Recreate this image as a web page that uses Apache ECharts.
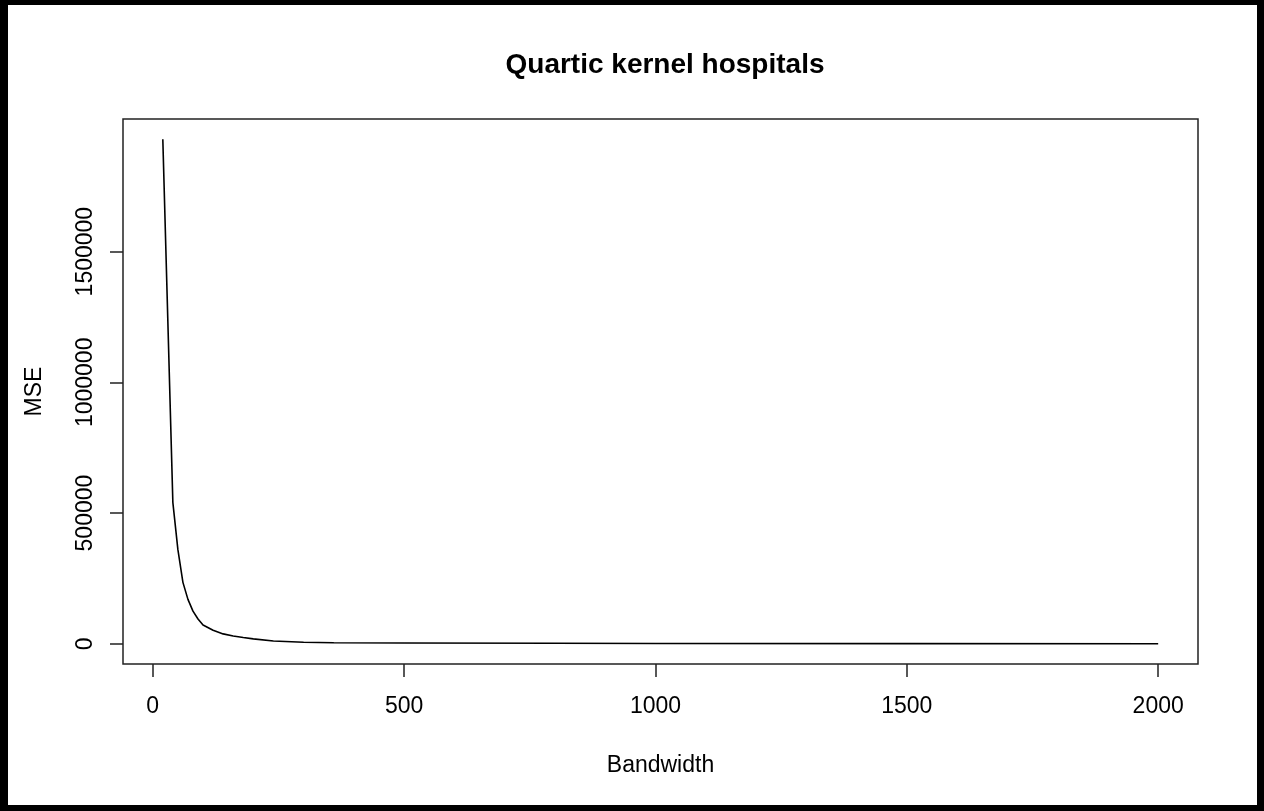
<!DOCTYPE html>
<html>
<head>
<meta charset="utf-8">
<title>Quartic kernel hospitals</title>
<script src="https://cdn.jsdelivr.net/npm/echarts@6/dist/echarts.min.js"></script>
<style>
body { margin: 0; background: #fff; }
#chart { position: absolute; left: 0; top: 0; width: 1264px; height: 811px; }
#frame { position: absolute; left: 0; top: 0; width: 1264px; height: 811px; box-sizing: border-box;
    border-style: solid; border-color: #000; border-width: 5px 7px 6px 8px; pointer-events: none; }
</style>
</head>
<body>
<div id="chart"></div>
<div id="frame"></div>
<script>
// MSE against bandwidth
var bandwidth = [20, 40, 50, 60, 70, 80, 90, 100, 120, 140, 160, 180, 200, 240, 300, 360, 500, 800, 1000, 1500, 2000];
var mse = [1930000, 540000, 360000, 235000, 170000, 125000, 95000, 72000, 52000, 38000, 30000, 24000, 19000, 11000, 6000, 4000, 3000, 2000, 1200, 600, 300];
var x_ticks = [0, 500, 1000, 1500, 2000];
var y_ticks = [0, 500000, 1000000, 1500000];

var font = 'Liberation Sans, Arial, sans-serif';
var points = [];
for (var i = 0; i < bandwidth.length; i++) {
    points.push([bandwidth[i], mse[i]]);
}
// R pads the data range by 4% each side
var x_span = 2000 - 20;
var y_span = 1930000 - 0;

function plain(v) {
    return String(v);
}

var chart = echarts.init(document.getElementById('chart'));
var option = {
    animation: false,
    backgroundColor: '#fff',
    title: {
	text: 'Quartic kernel hospitals',
	left: 660,
	textAlign: 'center',
	top: 46,
	textStyle: { fontFamily: font, fontSize: 28, fontWeight: 'bold', color: '#000' }
    },
    grid: {
	left: 123, top: 119, right: 66, bottom: 147,
	show: true,
	borderColor: '#222',
	borderWidth: 1.5,
	backgroundColor: 'transparent'
    },
    xAxis: {
	type: 'value',
	min: 20 - 0.04 * x_span,
	max: 2000 + 0.04 * x_span,
	name: 'Bandwidth',
	nameLocation: 'middle',
	nameGap: 90,
	nameTextStyle: { fontFamily: font, fontSize: 23, color: '#000' },
	axisLine: { show: false, onZero: false },
	splitLine: { show: false },
	axisTick: { show: true, inside: false, length: 13, customValues: x_ticks, lineStyle: { color: '#222', width: 1.5 } },
	axisLabel: { customValues: x_ticks, formatter: plain, margin: 31, fontFamily: font, fontSize: 23, color: '#000' }
    },
    yAxis: {
	type: 'value',
	min: 0 - 0.04 * y_span,
	max: 1930000 + 0.04 * y_span,
	name: 'MSE',
	nameLocation: 'middle',
	nameGap: 77,
	nameRotate: 90,
	nameTextStyle: { fontFamily: font, fontSize: 23, color: '#000' },
	axisLine: { show: false, onZero: false },
	splitLine: { show: false },
	axisTick: { show: true, inside: false, length: 13, customValues: y_ticks, lineStyle: { color: '#222', width: 1.5 } },
	axisLabel: { customValues: y_ticks, formatter: plain, rotate: 90, margin: 26, fontFamily: font, fontSize: 23, color: '#000' }
    },
    series: [
	{
	    type: 'line',
	    data: points,
	    symbol: 'none',
	    lineStyle: { color: '#000', width: 1.6 }
	}
    ]
};
chart.setOption(option);
</script>
</body>
</html>
